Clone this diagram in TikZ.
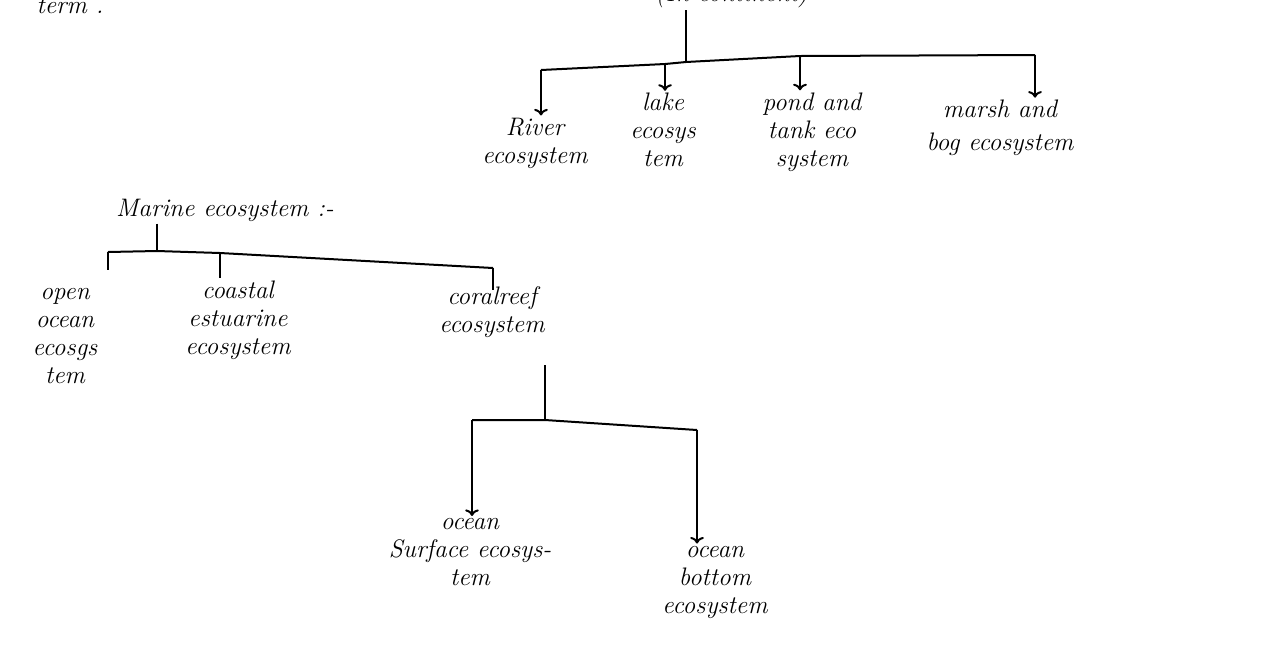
\documentclass[tikz,border=0pt]{standalone}
\usetikzlibrary{arrows.meta}
\tikzset{every picture/.style={line width=1.5pt}}
\tikzset{hand/.style={font=\itshape\fontsize{19}{21}\selectfont, align=center, inner sep=1pt}}

\begin{document}
\begin{tikzpicture}[x=0.75pt,y=0.75pt,yscale=-1,xscale=1]
\path[use as bounding box] (0,0) rectangle (1276,644);
\clip (0,0) rectangle (1276,644);

% Text Node
\draw (70,6) node [hand] (term) {term .};
% Text Node
\draw (732,-5) node [hand] (cont) {(In continent)};
% Text Node
\draw (535,143) node [hand] (river) {River\\ecosystem};
% Text Node
\draw (663,130) node [hand] (lake) {lake\\ecosys\\tem};
% Text Node
\draw (812,132) node [hand] (pond) {pond and\\tank eco\\system};
% Text Node
\draw (1000,128) node [hand] (marsh) {marsh and\\[4pt]bog ecosystem};
% Text Node
\draw (225,210) node [hand] (marine) {Marine ecosystem :-};
% Text Node
\draw (65,336) node [hand] (open) {open\\ocean\\ecosgs\\tem};
% Text Node
\draw (238,320) node [hand] (coastal) {coastal\\estuarine\\ecosystem};
% Text Node
\draw (492,312) node [hand] (coral) {coralreef\\ecosystem};
% Text Node
\draw (470,552) node [hand] (surface) {ocean\\Surface ecosys-\\tem};
% Text Node
\draw (715,582) node [hand] (bottom) {ocean\\bottom\\ecosystem};

% fresh water branches
\coordinate (fj) at (686,62);
\coordinate (jr) at (541,70);
\coordinate (jl) at (665,64);
\coordinate (jp) at (800,56);
\coordinate (jm) at (1035,55);
\draw (cont.south -| fj) -- (fj);
\draw (jr) -- (jl) -- (fj) -- (jp) -- (jm);
\draw [->] (jr) -- (jr |- river.north);
\draw [->] (jl) -- (jl |- lake.north);
\draw [->] (jp) -- (jp |- pond.north);
\draw [->] (jm) -- (jm |- marsh.north);

% marine branches
\coordinate (mj) at (157,251);
\coordinate (mo) at (108,252);
\coordinate (mc) at (220,253);
\coordinate (mr) at (493,268);
\draw (mj |- marine.south) -- (mj);
\draw (mo) -- (mj) -- (mc) -- (mr);
\draw (mo) -- (108,270);
\draw (mc) -- (220,278);
\draw (mr) -- (493,290);

% coral reef branches
\coordinate (ct) at (545,365);
\coordinate (cj) at (545,420);
\coordinate (cs) at (472,420);
\coordinate (cb) at (697,430);
\draw (ct) -- (cj);
\draw (cs) -- (cj) -- (cb);
\draw [->] (cs) -- (cs |- surface.north);
\draw [->] (cb) -- (cb |- bottom.north);

\end{tikzpicture}
\end{document}
